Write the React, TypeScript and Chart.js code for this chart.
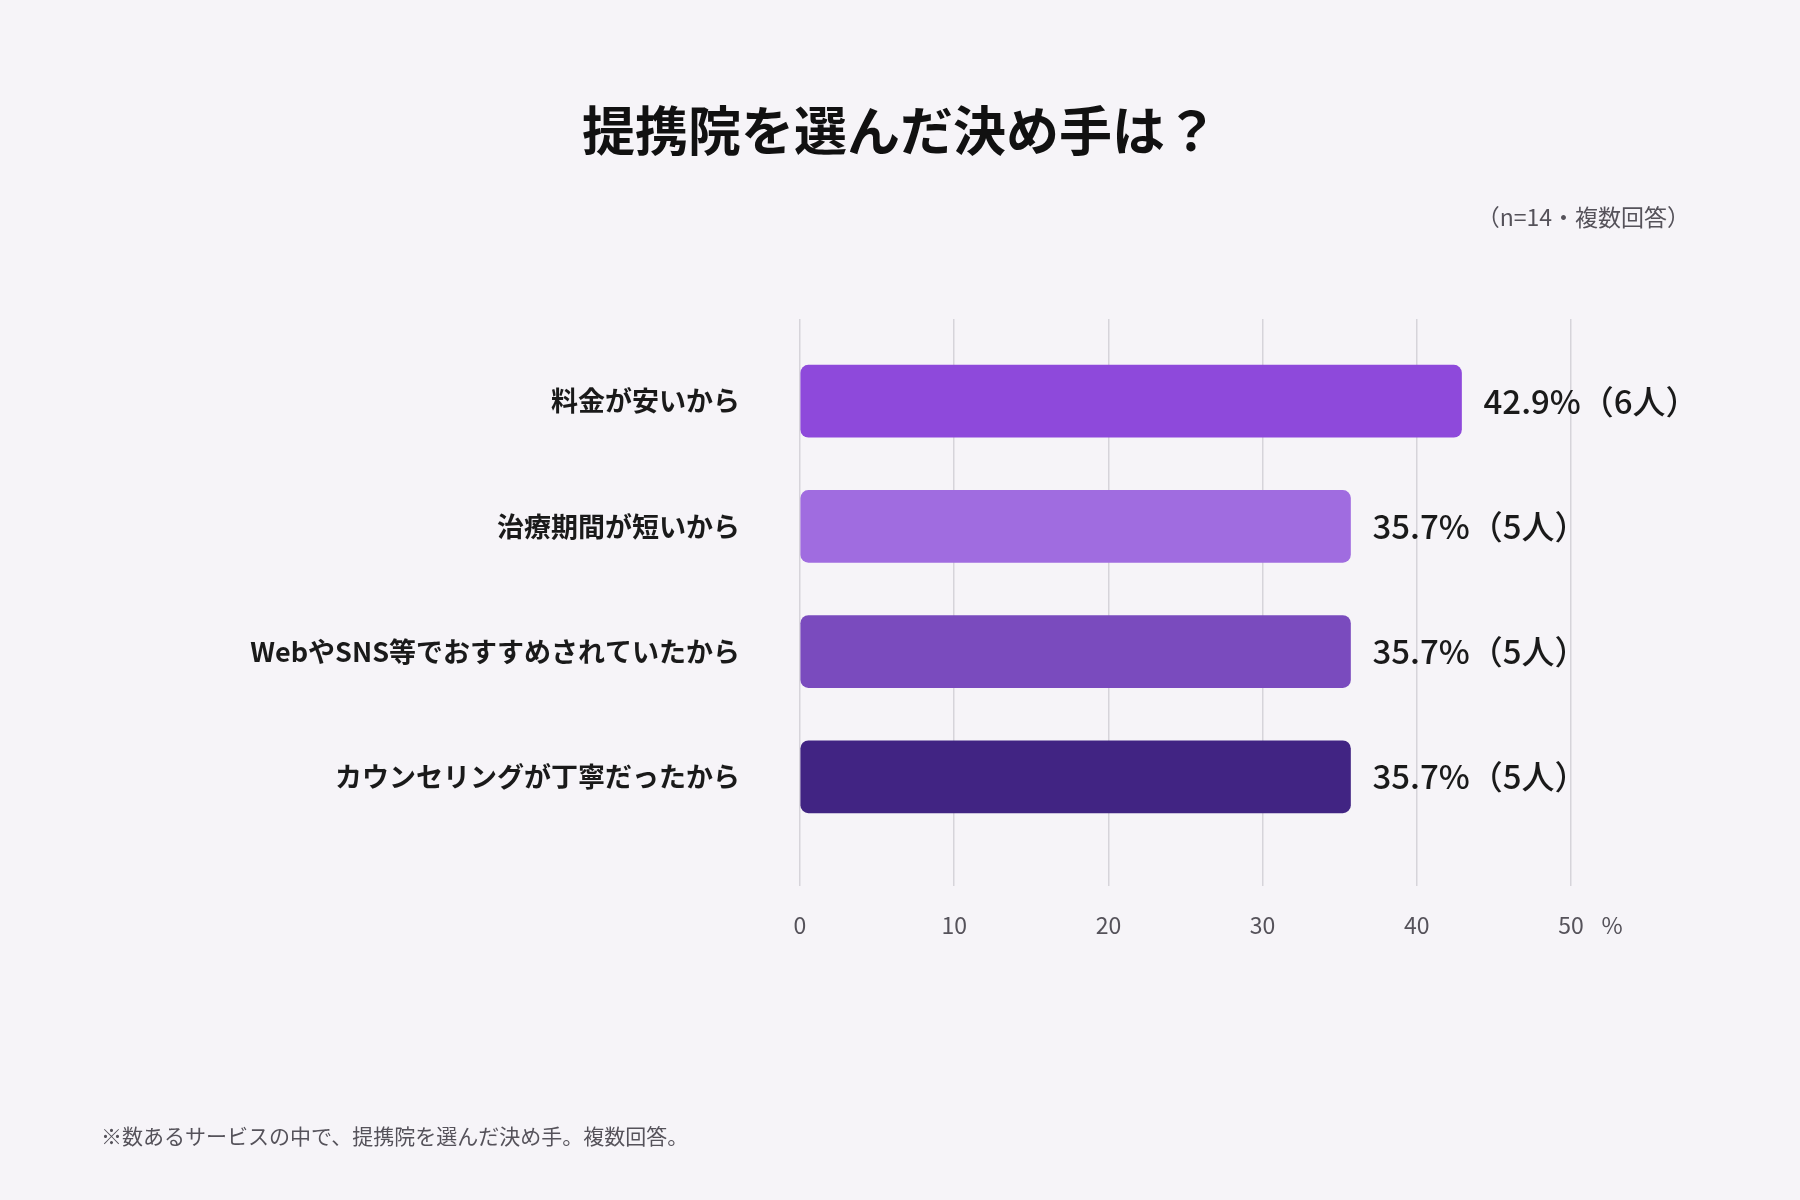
import { useEffect, useRef } from "react"
import { Chart, registerables } from "chart.js"
import type { Plugin } from "chart.js"

// Register Chart.js components
Chart.register(...registerables)

const categories = [
  "料金が安いから",
  "治療期間が短いから",
  "WebやSNS等でおすすめされていたから",
  "カウンセリングが丁寧だったから",
]
const percents = [42.9, 35.7, 35.7, 35.7]
const counts = [6, 5, 5, 5]
const barColors = ["#8E49DB", "#A06CE0", "#7A4BBE", "#412483"]

const titleText = "提携院を選んだ決め手は？"
const sampleText = "（n=14・複数回答）"
const footnoteText = "※数あるサービスの中で、提携院を選んだ決め手。複数回答。"
const unitText = "%"

const FONT = '"Noto Sans CJK JP", "Noto Sans", sans-serif'

// value labels to the right of each bar + the "%" unit after the x ticks
const labelPlugin: Plugin<"bar"> = {
  id: "barLabels",
  afterDatasetsDraw(chart) {
    const { ctx } = chart
    const meta = chart.getDatasetMeta(0)
    ctx.save()
    ctx.font = `500 33px ${FONT}`
    ctx.fillStyle = "#1a1a1a"
    ctx.textAlign = "left"
    ctx.textBaseline = "middle"
    meta.data.forEach((bar, i) => {
      ctx.fillText(`${percents[i]}%（${counts[i]}人）`, bar.x + 22, bar.y)
    })
    ctx.restore()
  },
  afterDraw(chart) {
    const { ctx } = chart
    const xScale = chart.scales.x
    ctx.save()
    ctx.font = `400 23px ${FONT}`
    ctx.fillStyle = "#55525a"
    ctx.textAlign = "center"
    ctx.textBaseline = "middle"
    ctx.fillText(unitText, xScale.getPixelForValue(50) + 41, xScale.top + 25 + 14)
    ctx.restore()
  },
}

function ReasonChart() {
  const chartRef = useRef<HTMLCanvasElement>(null)
  const chartInstance = useRef<Chart | null>(null)

  useEffect(() => {
    if (!chartRef.current) return
    if (chartInstance.current) chartInstance.current.destroy()

    const ctx = chartRef.current.getContext("2d")
    if (!ctx) return

    chartInstance.current = new Chart(ctx, {
      type: "bar",
      data: {
        datasets: [
          {
            data: percents.map((v, i) => ({ x: v, y: i })),
            backgroundColor: barColors,
            borderRadius: 8,
            borderSkipped: false,
            barThickness: 72,
          },
        ],
      },
      options: {
        indexAxis: "y",
        animation: false,
        responsive: true,
        maintainAspectRatio: false,
        layout: { padding: { top: 319, right: 229, bottom: 0, left: 0 } },
        scales: {
          x: {
            type: "linear",
            min: 0,
            max: 50,
            ticks: {
              stepSize: 10,
              padding: 25,
              color: "#55525a",
              font: { family: FONT, size: 23 },
            },
            grid: { color: "#d6d4da", lineWidth: 1.5, drawTicks: false },
            border: { display: false },
            afterFit: (scale) => {
              scale.height = 1200 - 886
            },
          },
          y: {
            type: "linear",
            reverse: true,
            offset: false,
            min: -0.656,
            max: 3.872,
            afterBuildTicks: (axis) => {
              axis.ticks = categories.map((_, i) => ({ value: i }))
            },
            ticks: {
              autoSkip: false,
              padding: 60,
              color: "#1a1a1a",
              font: { family: FONT, size: 27, weight: "bold" },
              callback: (value) => categories[Number(value)] ?? "",
            },
            grid: { display: false, drawTicks: false, offset: false },
            border: { display: false },
            afterFit: (scale) => {
              scale.width = 800
            },
          },
        },
        plugins: {
          legend: { display: false },
          tooltip: { enabled: false },
        },
      },
      plugins: [labelPlugin],
    })

    return () => {
      if (chartInstance.current) {
        chartInstance.current.destroy()
        chartInstance.current = null
      }
    }
  }, [])

  return (
    <div style={{ position: "absolute", left: 0, top: 0, width: 1800, height: 1200 }}>
      <canvas ref={chartRef} />
    </div>
  )
}

export default function App() {
  useEffect(() => {
    document.body.style.margin = "0"
  }, [])

  return (
    <div
      style={{
        position: "relative",
        width: 1800,
        height: 1200,
        background: "#f6f4f8",
        fontFamily: FONT,
        overflow: "hidden",
      }}
    >
      <ReasonChart />
      <div
        style={{
          position: "absolute",
          left: 0,
          top: 102,
          width: 1800,
          textAlign: "center",
          fontSize: 53,
          lineHeight: "53px",
          fontWeight: 700,
          color: "#111",
        }}
      >
        {titleText}
      </div>
      <div
        style={{
          position: "absolute",
          right: 110,
          top: 205,
          fontSize: 23,
          lineHeight: "23px",
          color: "#55525a",
        }}
      >
        {sampleText}
      </div>
      <div
        style={{
          position: "absolute",
          left: 101,
          top: 1125,
          fontSize: 21,
          lineHeight: "21px",
          color: "#55525a",
        }}
      >
        {footnoteText}
      </div>
    </div>
  )
}
